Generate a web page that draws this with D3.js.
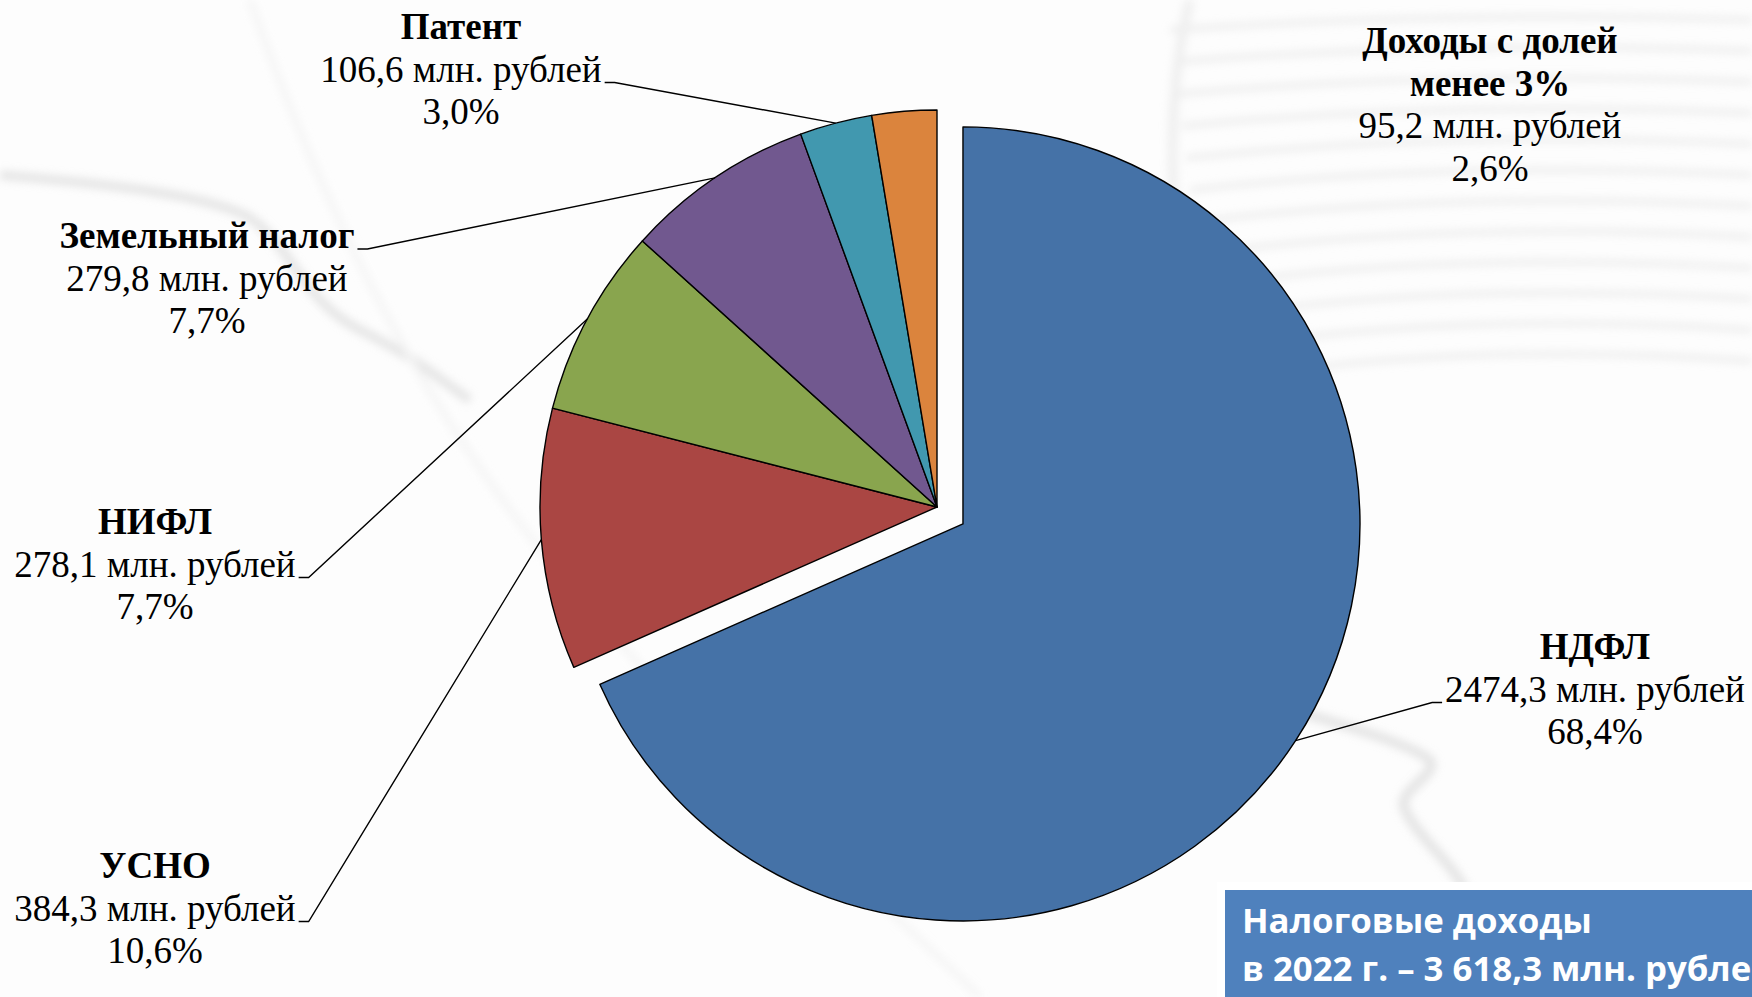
<!DOCTYPE html>
<html>
<head>
<meta charset="utf-8">
<script src="https://cdn.jsdelivr.net/npm/d3@7"></script>
<style>
    html, body { margin: 0; padding: 0; background: #ffffff; }
    svg { display: block; }
</style>
</head>
<body>
<svg id="chart" width="1752" height="997"></svg>
<script>
// data (clockwise from 12 o'clock)
var categories = ["НДФЛ", "УСНО", "НИФЛ", "Земельный налог", "Патент", "Доходы с долей\nменее 3%"];
var values = [2474.3, 384.3, 278.1, 279.8, 106.6, 95.2];
var percentLabels = ["68,4%", "10,6%", "7,7%", "7,7%", "3,0%", "2,6%"];
var valueUnit = "млн. рублей";
var totalLines = ["Налоговые доходы", "в 2022 г. – 3 618,3 млн. рублей"];
var sliceColors = ["#4572A7", "#AA4643", "#89A54E", "#71588F", "#4198AF", "#DB843D"];

(function () {
    var svg = d3.select("#chart"),
        width = +svg.attr("width"),
        height = +svg.attr("height");

    var cx = 937, cy = 507, radius = 397, explode = 31;
    var fontSize = 37, lineHeight = 42.5;

    // where each label sits: centre x, baseline of first line, which line gets the leader and on what side
    var labelLayout = [
        {x: 1595, y: 659, leaderLine: 1, side: "left"},
        {x: 155, y: 878, leaderLine: 1, side: "right"},
        {x: 155, y: 534, leaderLine: 1, side: "right"},
        {x: 207, y: 248, leaderLine: 0, side: "right"},
        {x: 461, y: 39, leaderLine: 1, side: "right"},
        {x: 1490, y: 53, leaderLine: null}
    ];

    ////////////////////////////////////////////////////////////////////////////
    // faint backdrop (coins / stock line in the original slide)
    var defs = svg.append("defs");
    defs.append("filter").attr("id", "soft")
        .append("feGaussianBlur").attr("stdDeviation", 4);

    var bg = svg.append("g").attr("class", "backdrop");
    bg.append("rect").attr("width", width).attr("height", height).attr("fill", "#fdfdfd");

    var coins = bg.append("g").attr("filter", "url(#soft)").attr("opacity", 0.5);
    d3.range(0, 12).forEach(function (k) {
        coins.append("path")
            .attr("d", "M" + (1170 + k * 4) + "," + (30 + k * 32) + " Q1450," + (10 + k * 30) + " 1752," + (20 + k * 31))
            .attr("fill", "none")
            .attr("stroke", "#dedede")
            .attr("stroke-width", 6);
    });
    coins.append("path")
        .attr("d", "M1190,0 C1160,120 1170,260 1210,420")
        .attr("fill", "none").attr("stroke", "#e2e2e2").attr("stroke-width", 10);

    var stock = bg.append("g").attr("filter", "url(#soft)").attr("opacity", 0.55);
    stock.append("path")
        .attr("d", "M0,175 C120,185 200,195 245,215 C290,240 300,300 360,330 C420,360 440,380 470,400")
        .attr("fill", "none").attr("stroke", "#d0d0d0").attr("stroke-width", 9);
    stock.append("path")
        .attr("d", "M1300,712 C1360,730 1410,745 1430,760 C1440,775 1395,790 1405,810 C1420,840 1450,860 1465,890")
        .attr("fill", "none").attr("stroke", "#d0d0d0").attr("stroke-width", 10);
    stock.append("path")
        .attr("d", "M250,0 C320,200 420,420 600,620 C720,760 860,880 980,997")
        .attr("fill", "none").attr("stroke", "#ececec").attr("stroke-width", 6);

    ////////////////////////////////////////////////////////////////////////////
    var data = categories.map(function (c, i) {
        return {name: c, value: values[i], pct: percentLabels[i]};
    });

    var pie = d3.pie().sort(null).startAngle(0).value(function (d) { return d.value; });
    var arc = d3.arc().innerRadius(0).outerRadius(radius);
    var arcs = pie(data);

    function midAngle(d) { return (d.startAngle + d.endAngle) / 2; }
    function shift(d, i) {
        if (i !== 0) { return [0, 0]; }
        var a = midAngle(d);
        return [Math.sin(a) * explode, -Math.cos(a) * explode];
    }

    var pieG = svg.append("g").attr("transform", "translate(" + cx + "," + cy + ")");

    pieG.selectAll("path.slice")
        .data(arcs)
        .enter().append("path")
        .attr("class", "slice")
        .attr("transform", function (d, i) {
            var o = shift(d, i);
            return "translate(" + o[0] + "," + o[1] + ")";
        })
        .attr("d", arc)
        .attr("fill", function (d, i) { return sliceColors[i]; })
        .attr("stroke", "#000")
        .attr("stroke-width", 1.4)
        .attr("stroke-linejoin", "round");

    ////////////////////////////////////////////////////////////////////////////
    var fmt = function (v) { return d3.format(".1f")(v).replace(".", ","); };
    var leader = d3.line();

    var labels = svg.append("g").attr("class", "labels")
        .style("font-family", "'Liberation Serif', 'Times New Roman', serif")
        .style("font-size", fontSize + "px")
        .attr("fill", "#000");

    arcs.forEach(function (d, i) {
        var lay = labelLayout[i];
        var lines = d.data.name.split("\n").map(function (t) { return {text: t, bold: true}; });
        lines.push({text: fmt(d.data.value) + " " + valueUnit, bold: false});
        lines.push({text: d.data.pct, bold: false});

        var g = labels.append("g");
        var nodes = lines.map(function (ln, k) {
            return g.append("text")
                .attr("x", lay.x)
                .attr("y", lay.y + k * lineHeight)
                .attr("text-anchor", "middle")
                .style("font-weight", ln.bold ? "bold" : "normal")
                .text(ln.text);
        });

        if (lay.leaderLine === null) { return; }
        var k = lay.leaderLine,
            w = nodes[k].node().getComputedTextLength(),
            ay = lay.y + k * lineHeight + 1,
            ax = lay.side === "right" ? lay.x + w / 2 + 3 : lay.x - w / 2 - 3,
            bx = lay.side === "right" ? ax + 10 : ax - 10;

        var a = midAngle(d), o = shift(d, i);
        var tx = cx + o[0] + Math.sin(a) * radius,
            ty = cy + o[1] - Math.cos(a) * radius;

        svg.append("path")
            .attr("d", leader([[ax, ay], [bx, ay], [tx, ty]]))
            .attr("fill", "none")
            .attr("stroke", "#000")
            .attr("stroke-width", 1.4);
    });

    ////////////////////////////////////////////////////////////////////////////
    // total box, bottom right
    var box = svg.append("g").attr("class", "total");
    box.append("rect")
        .attr("x", 1217).attr("y", 882)
        .attr("width", width - 1217).attr("height", height - 882)
        .attr("fill", "#ffffff");
    box.append("rect")
        .attr("x", 1225).attr("y", 890)
        .attr("width", width - 1225).attr("height", height - 890)
        .attr("fill", "#4F81BD");

    var boxText = box.selectAll("text.total")
        .data(totalLines)
        .enter().append("text")
        .attr("class", "total")
        .attr("x", 1242)
        .attr("y", function (d, i) { return 933 + i * 48; })
        .attr("fill", "#ffffff")
        .style("font-family", "'Open Sans', 'DejaVu Sans', sans-serif")
        .style("font-weight", "bold")
        .style("font-size", "32px")
        .text(function (d) { return d; });

    // fit first line to the width seen in the picture
    var firstLen = boxText.nodes()[0].getComputedTextLength();
    boxText.style("font-size", (32 * 350 / firstLen) + "px");
})();
</script>
</body>
</html>
